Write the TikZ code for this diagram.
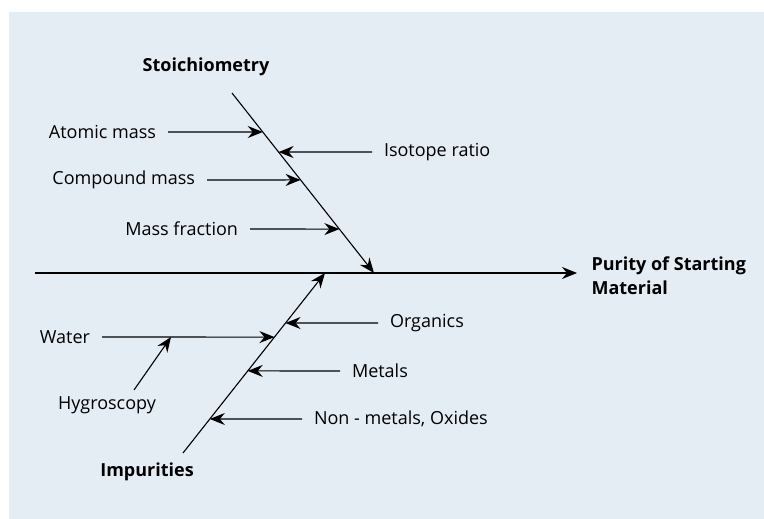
\documentclass[tikz,border=0pt]{standalone}
\usepackage{fontspec}
\setmainfont{Open Sans}
\usetikzlibrary{positioning, calc, arrows.meta}
\definecolor{panel}{RGB}{228,236,244}

\begin{document}
\begin{tikzpicture}[x=1pt, y=-1pt,
>={Stealth[length=15pt, width=12pt, inset=5pt]},
line width=1.1pt,
cause/.style={font=\fontsize{18}{21}\selectfont, inner sep=0pt, outer xsep=12pt},
head/.style={font=\fontsize{18}{24}\selectfont\bfseries, inner sep=0pt, align=left}]

\fill[panel] (9,12) rectangle (764,519);
\useasboundingbox (0,0) rectangle (764,519);

% spine
\coordinate (S) at (35,273);
\node[head, anchor=west] (P) at (591,276) {Purity of Starting\\Material};
\draw[->] (S) -- ([xshift=-14pt]P.west |- S);

% stoichiometry bone
\node[head] (sto) at (206,67) {Stoichiometry};
\coordinate (stoTop) at (232,93);
\coordinate (stoTip) at (374,273);
\draw[->] (stoTop) -- (stoTip);

\coordinate (s1) at ($(stoTop)!0.2167!(stoTip)$);
\coordinate (s2) at ($(stoTop)!0.328!(stoTip)$);
\coordinate (s3) at ($(stoTop)!0.483!(stoTip)$);
\coordinate (s4) at ($(stoTop)!0.756!(stoTip)$);

\node[cause, anchor=east] (am) at (168,132) {Atomic mass};
\node[cause, anchor=west] (ir) at (372,152) {Isotope ratio};
\node[cause, anchor=east] (cm) at (207,180) {Compound mass};
\node[cause, anchor=east] (mf) at (250,229) {Mass fraction};

\draw[->] (am.east) -- (s1);
\draw[->] (ir.west) -- (s2);
\draw[->] (cm.east) -- (s3);
\draw[->] (mf.east) -- (s4);

% impurities bone
\node[head] (imp) at (147,472) {Impurities};
\coordinate (impBot) at (183,453);
\coordinate (impTip) at (325,273);
\draw[->] (impBot) -- (impTip);

\coordinate (i1) at ($(impBot)!0.644!(impTip)$);
\coordinate (i2) at ($(impBot)!0.722!(impTip)$);
\coordinate (i3) at ($(impBot)!0.456!(impTip)$);
\coordinate (i4) at ($(impBot)!0.189!(impTip)$);

\node[cause, anchor=east] (wa) at (102,337) {Water};
\node[cause, anchor=west] (org) at (378,323) {Organics};
\node[cause, anchor=west] (met) at (340,371) {Metals};
\node[cause, anchor=west] (non) at (302,419) {Non - metals, Oxides};

\draw[->] (wa.east) -- (i1);
\draw[->] (org.west) -- (i2);
\draw[->] (met.west) -- (i3);
\draw[->] (non.west) -- (i4);

% sub cause on water
\node[font=\fontsize{18}{21}\selectfont, inner sep=0pt] (hyg) at (107,405) {Hygroscopy};
\coordinate (hygFoot) at (134,390);
\coordinate (w1) at ($(wa.east)!0.4!(i1)$);
\draw[->] (hygFoot) -- (w1);

\end{tikzpicture}
\end{document}
